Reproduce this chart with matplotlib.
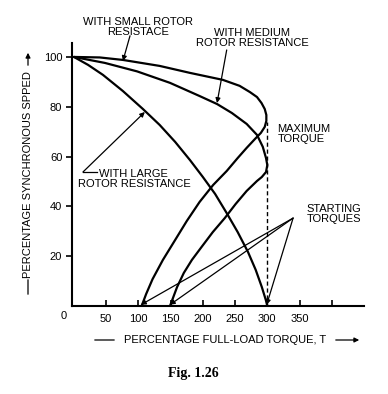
import matplotlib
matplotlib.use("Agg")
import matplotlib.pyplot as plt

plt.rcParams['font.family'] = ['Liberation Sans', 'DejaVu Sans']
plt.rcParams['font.size'] = 8

# torque (% of full load) against speed (% of synchronous)
small_T = [0, 40, 76, 133, 180, 231, 257, 273, 284, 291, 296, 298.5, 298.5, 296, 290, 281,
           268, 254, 237, 216, 195, 175, 157, 138, 122, 112, 105]
small_S = [100, 99.8, 98.8, 96.4, 93.6, 90.8, 88.4, 85.9, 83.9, 81.5, 79.1, 76.7, 74.3, 71.9,
           69.5, 67.1, 63.5, 59.4, 54.2, 48.6, 41.8, 34.1, 26.5, 18.5, 10.8, 4.8, 0]

medium_T = [0, 48, 98, 149, 195, 222, 245, 268, 284, 293, 298, 300, 298, 291.5, 284, 268,
            251, 234, 215.5, 198, 183, 170.5, 160, 149]
medium_S = [100, 97.6, 94.2, 89.6, 84.3, 81.1, 77.5, 73.1, 68.7, 63.9, 59.4, 56.6, 53.8, 51.8,
            50.2, 46.2, 41, 35.3, 29.7, 23.7, 18.5, 13.3, 7.6, 0]

large_T = [0, 22, 45, 76, 107, 133, 157, 180, 200, 219, 237, 254, 270, 282, 291.5, 297.7, 300]
large_S = [100, 96.8, 92.8, 86.3, 79.1, 72.7, 65.9, 58.6, 51.8, 45, 37.3, 29.7, 21.7, 14.5,
           7.6, 2.4, 0]

max_T = 300
max_S = 74
start_T = [104, 149, 299]

xticks = [50, 100, 150, 200, 250, 300, 350, 400]
xlabels = ['50', '100', '150', '200', '250', '300', '350', '']
yticks = [20, 40, 60, 80, 100]

fig = plt.figure(figsize=(3.88, 3.94), dpi=100)
ax = fig.add_axes([72/388, 88/394, 292/388, 263/394])
ax.set_xlim(-3, 450)
ax.set_ylim(0, 105.6)

for T, S in [(small_T, small_S), (medium_T, medium_S), (large_T, large_S)]:
    ax.plot(T, S, color='black', lw=1.6, solid_joinstyle='round', solid_capstyle='round')

ax.plot([max_T, max_T], [0, max_S], color='black', lw=1.0, ls=(0, (3, 2)))

for s in ['top', 'right']:
    ax.spines[s].set_visible(False)
for s in ['left', 'bottom']:
    ax.spines[s].set_linewidth(1.5)

ax.set_xticks(xticks)
ax.set_xticklabels(xlabels)
ax.set_yticks(yticks)
ax.tick_params(axis='x', direction='in', length=4, width=1.2, pad=6)
ax.tick_params(axis='y', direction='out', length=4, width=1.2, pad=3)
ax.text(-16, -4, '0', ha='center', va='center', clip_on=False)

arrow = dict(arrowstyle='-|>', color='black', lw=0.9, mutation_scale=7, shrinkA=0, shrinkB=0)

ax.text(99, 112.2, 'WITH SMALL ROTOR\nRESISTACE', ha='center', va='center', linespacing=1.0)
ax.annotate('', xy=(76, 98.4), xytext=(87, 108.5), arrowprops=arrow, annotation_clip=False)

ax.text(277, 107.6, 'WITH MEDIUM\nROTOR RESISTANCE', ha='center', va='center', linespacing=1.0)
ax.annotate('', xy=(222, 81.5), xytext=(237, 102.8), arrowprops=arrow, annotation_clip=False)

ax.text(316, 69, 'MAXIMUM\nTORQUE', ha='left', va='center', linespacing=1.0)

ax.text(93, 50.8, 'WITH LARGE\nROTOR RESISTANCE', ha='center', va='center', linespacing=1.0)
ax.plot([36, 14], [53.8, 53.8], color='black', lw=0.9)
ax.annotate('', xy=(110, 77.9), xytext=(14, 53.8), arrowprops=arrow, annotation_clip=False)

ax.text(403, 37, 'STARTING\nTORQUES', ha='center', va='center', linespacing=1.0)
for t in start_T:
    ax.annotate('', xy=(t, 0.5), xytext=(340, 35.3), arrowprops=arrow, annotation_clip=False)

# axis titles with their hand-drawn arrows, in figure pixels
ax.annotate('', xy=(92, 54), xytext=(117, 54), xycoords='figure pixels',
            arrowprops=dict(arrowstyle='-', color='black', lw=0.9))
fig.text(225/388, 54/394, 'PERCENTAGE FULL-LOAD TORQUE, T', ha='center', va='center')
ax.annotate('', xy=(362, 54), xytext=(333, 54), xycoords='figure pixels',
            arrowprops=dict(arrowstyle='-|>', color='black', lw=0.9, mutation_scale=7))

ax.annotate('', xy=(28, 97), xytext=(28, 117), xycoords='figure pixels',
            arrowprops=dict(arrowstyle='-', color='black', lw=0.9))
fig.text(28/388, 219/394, 'PERCENTAGE SYNCHRONOUS SPPED', rotation=90, ha='center', va='center')
ax.annotate('', xy=(28, 344), xytext=(28, 326), xycoords='figure pixels',
            arrowprops=dict(arrowstyle='-|>', color='black', lw=0.9, mutation_scale=7))

fig.text(193/388, 21/394, 'Fig. 1.26', ha='center', va='center',
         family=['Liberation Serif', 'DejaVu Serif'], weight='bold', fontsize=10)

fig.savefig('out.png', dpi=100)
